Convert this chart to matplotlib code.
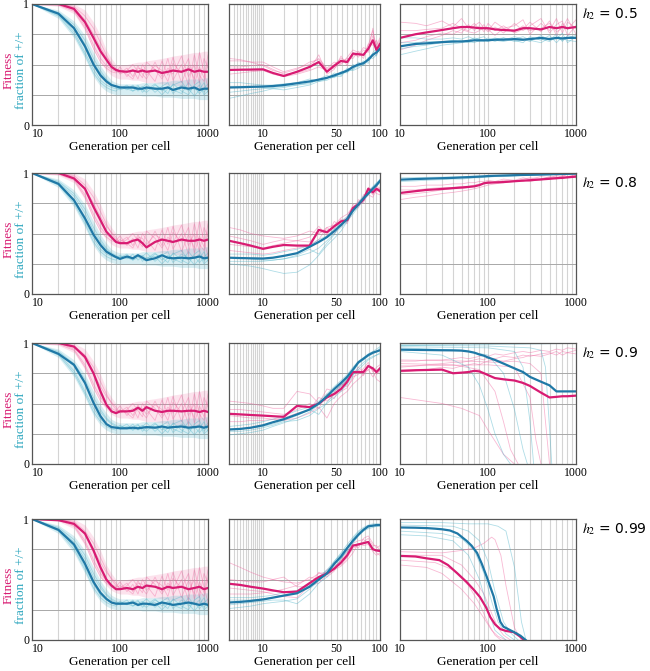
import numpy as np
import matplotlib
import matplotlib.pyplot as plt

plt.rcParams['font.family'] = ['Liberation Serif', 'DejaVu Serif']
plt.rcParams['mathtext.fontset'] = 'stix'

# ---- data -------------------------------------------------------------
h2_labels = ['0.5', '0.8', '0.9', '0.99']

# left column: generations 10..1000
LX = [10, 20, 30, 40, 50, 60, 70, 80, 90, 100, 120, 140, 160, 180, 200, 250, 300, 350, 400, 500, 600, 700, 800, 900, 1000]
left_mag = [
    [1.0, 1.0, 0.96, 0.85, 0.72, 0.61, 0.54, 0.48, 0.455, 0.445, 0.44, 0.45, 0.44, 0.45, 0.44, 0.45, 0.43, 0.44, 0.45, 0.44, 0.46, 0.44, 0.45, 0.44, 0.44],
    [1.0, 1.0, 0.955, 0.87, 0.72, 0.61, 0.515, 0.47, 0.43, 0.42, 0.42, 0.44, 0.45, 0.42, 0.385, 0.43, 0.45, 0.44, 0.43, 0.45, 0.44, 0.44, 0.45, 0.44, 0.45],
    [1.0, 1.0, 0.97, 0.885, 0.75, 0.60, 0.49, 0.435, 0.42, 0.435, 0.435, 0.44, 0.465, 0.44, 0.47, 0.44, 0.43, 0.44, 0.44, 0.435, 0.44, 0.44, 0.43, 0.44, 0.43],
    [1.0, 0.99, 0.96, 0.88, 0.74, 0.60, 0.50, 0.45, 0.42, 0.42, 0.43, 0.42, 0.44, 0.43, 0.45, 0.44, 0.42, 0.44, 0.43, 0.44, 0.42, 0.43, 0.44, 0.42, 0.43],
]
left_teal = [
    [1.0, 0.92, 0.80, 0.65, 0.50, 0.41, 0.36, 0.33, 0.32, 0.31, 0.31, 0.31, 0.30, 0.30, 0.31, 0.30, 0.30, 0.31, 0.29, 0.31, 0.30, 0.31, 0.29, 0.30, 0.30],
    [1.0, 0.91, 0.775, 0.625, 0.49, 0.405, 0.35, 0.325, 0.305, 0.29, 0.31, 0.295, 0.32, 0.30, 0.28, 0.295, 0.32, 0.30, 0.295, 0.30, 0.295, 0.30, 0.31, 0.295, 0.30],
    [1.0, 0.91, 0.82, 0.67, 0.505, 0.395, 0.33, 0.305, 0.30, 0.295, 0.295, 0.30, 0.295, 0.30, 0.305, 0.30, 0.31, 0.30, 0.305, 0.31, 0.30, 0.305, 0.31, 0.30, 0.31],
    [1.0, 0.91, 0.79, 0.63, 0.48, 0.39, 0.34, 0.31, 0.30, 0.30, 0.30, 0.31, 0.29, 0.30, 0.30, 0.29, 0.31, 0.30, 0.29, 0.30, 0.31, 0.30, 0.29, 0.30, 0.29],
]
left_mag_runs = [
    [1.0, 1.0, 0.98, 0.90, 0.80, 0.68, 0.58, 0.50, 0.45, 0.43, 0.47, 0.40, 0.49, 0.42, 0.38, 0.52, 0.40, 0.55, 0.37, 0.50, 0.33, 0.58, 0.41, 0.36, 0.52],
    [1.0, 1.0, 0.95, 0.82, 0.66, 0.55, 0.49, 0.46, 0.44, 0.48, 0.40, 0.46, 0.38, 0.50, 0.45, 0.36, 0.53, 0.41, 0.56, 0.35, 0.49, 0.38, 0.60, 0.44, 0.31],
    [1.0, 1.0, 0.97, 0.87, 0.75, 0.64, 0.56, 0.51, 0.47, 0.42, 0.45, 0.50, 0.44, 0.39, 0.52, 0.46, 0.38, 0.47, 0.42, 0.57, 0.40, 0.50, 0.35, 0.55, 0.47],
    [1.0, 0.99, 0.94, 0.80, 0.63, 0.52, 0.47, 0.44, 0.43, 0.45, 0.42, 0.38, 0.47, 0.46, 0.41, 0.49, 0.45, 0.36, 0.51, 0.43, 0.55, 0.34, 0.48, 0.39, 0.58],
]
left_teal_runs = [
    [1.0, 0.93, 0.83, 0.70, 0.55, 0.45, 0.38, 0.34, 0.32, 0.30, 0.33, 0.28, 0.32, 0.29, 0.27, 0.33, 0.30, 0.26, 0.34, 0.28, 0.25, 0.33, 0.36, 0.27, 0.31],
    [1.0, 0.91, 0.77, 0.60, 0.46, 0.37, 0.33, 0.31, 0.30, 0.32, 0.29, 0.33, 0.28, 0.31, 0.34, 0.27, 0.32, 0.35, 0.26, 0.33, 0.30, 0.24, 0.29, 0.35, 0.27],
    [1.0, 0.92, 0.81, 0.67, 0.52, 0.43, 0.37, 0.33, 0.31, 0.29, 0.31, 0.30, 0.33, 0.27, 0.30, 0.31, 0.25, 0.30, 0.33, 0.36, 0.28, 0.31, 0.26, 0.30, 0.34],
    [1.0, 0.90, 0.75, 0.58, 0.43, 0.35, 0.31, 0.29, 0.28, 0.31, 0.30, 0.28, 0.30, 0.32, 0.29, 0.34, 0.28, 0.32, 0.29, 0.26, 0.35, 0.29, 0.33, 0.25, 0.28],
]
left_mag_lo = [1.0, 0.98, 0.92, 0.78, 0.62, 0.52, 0.45, 0.41, 0.39, 0.38, 0.38, 0.37, 0.37, 0.36, 0.35, 0.35, 0.34, 0.33, 0.33, 0.32, 0.31, 0.31, 0.30, 0.30, 0.30]
left_mag_hi = [1.0, 1.0, 1.0, 0.95, 0.85, 0.74, 0.62, 0.55, 0.50, 0.50, 0.50, 0.51, 0.52, 0.52, 0.53, 0.54, 0.55, 0.56, 0.57, 0.58, 0.59, 0.60, 0.60, 0.61, 0.61]
left_teal_lo = [1.0, 0.88, 0.72, 0.55, 0.40, 0.32, 0.28, 0.26, 0.25, 0.25, 0.25, 0.25, 0.25, 0.24, 0.24, 0.24, 0.23, 0.23, 0.23, 0.22, 0.22, 0.22, 0.21, 0.21, 0.21]
left_teal_hi = [1.0, 0.95, 0.86, 0.74, 0.60, 0.49, 0.42, 0.37, 0.35, 0.34, 0.34, 0.34, 0.34, 0.35, 0.35, 0.35, 0.36, 0.36, 0.37, 0.37, 0.38, 0.38, 0.38, 0.39, 0.39]

# middle column: first 100 generations
MX = [3.35, 5, 7, 10, 13, 17, 23, 30, 36, 42, 48, 54, 60, 66, 72, 78, 84, 90, 95, 100]
mid_mag = [
    [0.455, 0.457, 0.458, 0.46, 0.43, 0.405, 0.44, 0.48, 0.52, 0.44, 0.49, 0.53, 0.52, 0.59, 0.585, 0.58, 0.63, 0.70, 0.62, 0.67],
    [0.44, 0.42, 0.40, 0.373, 0.39, 0.405, 0.40, 0.40, 0.53, 0.51, 0.56, 0.60, 0.61, 0.71, 0.74, 0.78, 0.87, 0.84, 0.87, 0.85],
    [0.415, 0.41, 0.405, 0.40, 0.395, 0.39, 0.48, 0.47, 0.50, 0.55, 0.58, 0.62, 0.68, 0.76, 0.76, 0.76, 0.81, 0.79, 0.76, 0.79],
    [0.465, 0.455, 0.44, 0.425, 0.41, 0.395, 0.40, 0.47, 0.52, 0.55, 0.59, 0.64, 0.70, 0.78, 0.79, 0.80, 0.81, 0.75, 0.74, 0.735],
]
mid_teal = [
    [0.31, 0.312, 0.315, 0.318, 0.322, 0.33, 0.345, 0.36, 0.375, 0.39, 0.41, 0.43, 0.45, 0.48, 0.50, 0.51, 0.54, 0.58, 0.60, 0.63],
    [0.30, 0.297, 0.295, 0.293, 0.30, 0.315, 0.337, 0.39, 0.43, 0.47, 0.52, 0.57, 0.62, 0.69, 0.74, 0.79, 0.83, 0.87, 0.90, 0.935],
    [0.285, 0.29, 0.30, 0.32, 0.345, 0.37, 0.41, 0.45, 0.50, 0.56, 0.62, 0.67, 0.72, 0.78, 0.84, 0.87, 0.90, 0.92, 0.93, 0.94],
    [0.31, 0.315, 0.323, 0.335, 0.35, 0.367, 0.386, 0.44, 0.50, 0.55, 0.63, 0.69, 0.76, 0.82, 0.87, 0.91, 0.94, 0.945, 0.95, 0.95],
]
mid_mag_runs = [
    [[0.53, 0.53, 0.52, 0.52, 0.48, 0.44, 0.47, 0.50, 0.55, 0.47, 0.52, 0.50, 0.56, 0.62, 0.60, 0.55, 0.66, 0.78, 0.64, 0.70],
     [0.48, 0.48, 0.49, 0.50, 0.46, 0.42, 0.43, 0.46, 0.58, 0.42, 0.46, 0.57, 0.49, 0.60, 0.56, 0.62, 0.60, 0.74, 0.66, 0.72],
     [0.42, 0.43, 0.44, 0.45, 0.42, 0.40, 0.42, 0.45, 0.48, 0.45, 0.47, 0.51, 0.55, 0.55, 0.61, 0.57, 0.67, 0.66, 0.70, 0.62],
     [0.55, 0.54, 0.52, 0.49, 0.45, 0.43, 0.46, 0.52, 0.54, 0.46, 0.50, 0.55, 0.53, 0.57, 0.58, 0.64, 0.62, 0.80, 0.58, 0.68]],
    [[0.55, 0.53, 0.50, 0.48, 0.47, 0.46, 0.48, 0.52, 0.50, 0.55, 0.57, 0.63, 0.66, 0.72, 0.76, 0.80, 0.86, 0.82, 0.90, 0.86],
     [0.36, 0.35, 0.34, 0.33, 0.34, 0.36, 0.38, 0.40, 0.45, 0.55, 0.50, 0.58, 0.64, 0.68, 0.78, 0.75, 0.88, 0.86, 0.83, 0.82],
     [0.48, 0.46, 0.44, 0.41, 0.43, 0.45, 0.44, 0.47, 0.56, 0.48, 0.60, 0.56, 0.63, 0.74, 0.71, 0.82, 0.84, 0.88, 0.85, 0.88],
     [0.41, 0.40, 0.39, 0.38, 0.40, 0.42, 0.44, 0.43, 0.50, 0.53, 0.54, 0.62, 0.58, 0.70, 0.73, 0.77, 0.82, 0.80, 0.86, 0.84]],
    [[0.52, 0.51, 0.50, 0.48, 0.46, 0.46, 0.60, 0.58, 0.50, 0.62, 0.60, 0.65, 0.70, 0.74, 0.80, 0.76, 0.78, 0.80, 0.74, 0.77],
     [0.35, 0.35, 0.36, 0.36, 0.37, 0.38, 0.42, 0.45, 0.55, 0.52, 0.57, 0.60, 0.63, 0.72, 0.74, 0.79, 0.84, 0.76, 0.80, 0.82],
     [0.45, 0.45, 0.44, 0.43, 0.42, 0.41, 0.45, 0.50, 0.46, 0.58, 0.54, 0.66, 0.64, 0.70, 0.78, 0.73, 0.82, 0.77, 0.70, 0.68],
     [0.40, 0.39, 0.38, 0.38, 0.37, 0.36, 0.38, 0.42, 0.47, 0.38, 0.50, 0.56, 0.60, 0.66, 0.70, 0.74, 0.78, 0.72, 0.76, 0.80]],
    [[0.64, 0.60, 0.56, 0.52, 0.50, 0.48, 0.47, 0.50, 0.55, 0.56, 0.60, 0.66, 0.72, 0.80, 0.82, 0.83, 0.80, 0.76, 0.72, 0.70],
     [0.38, 0.38, 0.38, 0.39, 0.40, 0.42, 0.45, 0.52, 0.50, 0.58, 0.62, 0.62, 0.68, 0.76, 0.78, 0.81, 0.84, 0.78, 0.78, 0.74],
     [0.50, 0.49, 0.48, 0.48, 0.50, 0.52, 0.44, 0.44, 0.56, 0.52, 0.57, 0.67, 0.74, 0.79, 0.76, 0.84, 0.86, 0.80, 0.76, 0.78],
     [0.43, 0.42, 0.41, 0.40, 0.38, 0.36, 0.35, 0.45, 0.47, 0.54, 0.58, 0.61, 0.66, 0.72, 0.80, 0.78, 0.79, 0.73, 0.70, 0.72]],
]
mid_teal_runs = [
    [[0.22, 0.24, 0.26, 0.28, 0.30, 0.31, 0.33, 0.35, 0.37, 0.39, 0.40, 0.42, 0.44, 0.46, 0.49, 0.52, 0.53, 0.57, 0.62, 0.60],
     [0.35, 0.35, 0.34, 0.33, 0.33, 0.34, 0.35, 0.38, 0.36, 0.38, 0.43, 0.41, 0.47, 0.46, 0.52, 0.49, 0.56, 0.55, 0.58, 0.65],
     [0.27, 0.28, 0.29, 0.30, 0.31, 0.32, 0.33, 0.34, 0.38, 0.41, 0.39, 0.44, 0.43, 0.50, 0.48, 0.53, 0.51, 0.60, 0.63, 0.62],
     [0.32, 0.32, 0.32, 0.31, 0.30, 0.29, 0.31, 0.33, 0.36, 0.37, 0.40, 0.40, 0.46, 0.45, 0.47, 0.50, 0.55, 0.59, 0.57, 0.66]],
    [[0.25, 0.24, 0.23, 0.21, 0.19, 0.17, 0.18, 0.24, 0.32, 0.40, 0.46, 0.52, 0.60, 0.68, 0.73, 0.78, 0.83, 0.88, 0.91, 0.93],
     [0.33, 0.33, 0.33, 0.32, 0.33, 0.35, 0.37, 0.40, 0.45, 0.48, 0.54, 0.58, 0.63, 0.70, 0.75, 0.80, 0.84, 0.88, 0.91, 0.95],
     [0.27, 0.27, 0.27, 0.27, 0.28, 0.29, 0.31, 0.34, 0.38, 0.44, 0.50, 0.55, 0.60, 0.66, 0.72, 0.77, 0.82, 0.86, 0.89, 0.92],
     [0.30, 0.30, 0.29, 0.28, 0.28, 0.29, 0.32, 0.37, 0.33, 0.42, 0.49, 0.60, 0.64, 0.71, 0.76, 0.81, 0.85, 0.89, 0.92, 0.94]],
    [[0.24, 0.25, 0.26, 0.28, 0.31, 0.34, 0.38, 0.43, 0.49, 0.55, 0.60, 0.65, 0.70, 0.76, 0.83, 0.86, 0.89, 0.91, 0.93, 0.96],
     [0.31, 0.32, 0.33, 0.35, 0.37, 0.40, 0.44, 0.47, 0.52, 0.58, 0.64, 0.69, 0.74, 0.80, 0.85, 0.88, 0.91, 0.93, 0.95, 0.97],
     [0.27, 0.27, 0.28, 0.30, 0.32, 0.35, 0.36, 0.40, 0.46, 0.50, 0.55, 0.60, 0.66, 0.73, 0.80, 0.84, 0.87, 0.89, 0.90, 0.92],
     [0.29, 0.29, 0.30, 0.31, 0.33, 0.36, 0.40, 0.45, 0.41, 0.51, 0.58, 0.64, 0.70, 0.74, 0.78, 0.82, 0.86, 0.88, 0.90, 0.91]],
    [[0.26, 0.27, 0.28, 0.30, 0.31, 0.32, 0.34, 0.42, 0.49, 0.56, 0.65, 0.72, 0.79, 0.85, 0.90, 0.93, 0.95, 0.96, 0.96, 0.96],
     [0.35, 0.35, 0.35, 0.36, 0.37, 0.39, 0.41, 0.46, 0.52, 0.58, 0.65, 0.71, 0.77, 0.83, 0.88, 0.91, 0.93, 0.94, 0.95, 0.95],
     [0.29, 0.30, 0.31, 0.32, 0.33, 0.33, 0.30, 0.38, 0.47, 0.52, 0.60, 0.67, 0.75, 0.84, 0.89, 0.92, 0.94, 0.95, 0.94, 0.94],
     [0.33, 0.33, 0.33, 0.34, 0.35, 0.37, 0.40, 0.45, 0.51, 0.57, 0.63, 0.68, 0.73, 0.80, 0.86, 0.90, 0.92, 0.93, 0.94, 0.95]],
]

# right column: generations 10..1000
RX = [10, 15, 20, 30, 40, 50, 60, 70, 80, 90, 100, 120, 150, 200, 250, 300, 400, 500, 600, 700, 800, 1000]
r1_mag = [0.72, 0.75, 0.765, 0.785, 0.80, 0.81, 0.81, 0.805, 0.80, 0.80, 0.80, 0.79, 0.785, 0.78, 0.80, 0.80, 0.79, 0.81, 0.80, 0.81, 0.80, 0.81]
r1_teal = [0.65, 0.67, 0.675, 0.685, 0.69, 0.69, 0.695, 0.70, 0.70, 0.70, 0.70, 0.705, 0.705, 0.71, 0.705, 0.71, 0.72, 0.71, 0.72, 0.715, 0.72, 0.72]
r1_mag_runs = [
    [0.85, 0.84, 0.82, 0.86, 0.81, 0.88, 0.80, 0.84, 0.79, 0.83, 0.78, 0.85, 0.80, 0.82, 0.87, 0.75, 0.84, 0.78, 0.88, 0.76, 0.85, 0.80],
    [0.62, 0.66, 0.70, 0.74, 0.78, 0.76, 0.83, 0.78, 0.82, 0.77, 0.84, 0.78, 0.82, 0.76, 0.79, 0.85, 0.77, 0.86, 0.74, 0.84, 0.79, 0.87],
    [0.78, 0.78, 0.79, 0.80, 0.84, 0.80, 0.78, 0.82, 0.85, 0.80, 0.77, 0.81, 0.76, 0.84, 0.78, 0.82, 0.88, 0.76, 0.83, 0.86, 0.74, 0.82],
    [0.68, 0.70, 0.73, 0.76, 0.75, 0.79, 0.77, 0.76, 0.78, 0.81, 0.79, 0.74, 0.80, 0.77, 0.82, 0.78, 0.80, 0.84, 0.77, 0.80, 0.88, 0.75],
]
r1_teal_runs = [
    [0.58, 0.61, 0.63, 0.66, 0.67, 0.68, 0.69, 0.68, 0.70, 0.69, 0.71, 0.69, 0.72, 0.70, 0.68, 0.73, 0.70, 0.74, 0.68, 0.73, 0.70, 0.69],
    [0.72, 0.72, 0.71, 0.71, 0.72, 0.71, 0.73, 0.71, 0.72, 0.73, 0.70, 0.72, 0.70, 0.73, 0.71, 0.69, 0.74, 0.70, 0.75, 0.69, 0.74, 0.72],
    [0.63, 0.65, 0.66, 0.68, 0.68, 0.70, 0.68, 0.70, 0.69, 0.70, 0.72, 0.70, 0.69, 0.71, 0.73, 0.70, 0.68, 0.72, 0.71, 0.76, 0.68, 0.73],
    [0.68, 0.68, 0.69, 0.69, 0.70, 0.69, 0.70, 0.72, 0.71, 0.70, 0.69, 0.71, 0.72, 0.69, 0.70, 0.72, 0.71, 0.69, 0.73, 0.70, 0.72, 0.74],
]
r2_mag = [0.835, 0.85, 0.86, 0.868, 0.875, 0.88, 0.885, 0.89, 0.90, 0.915, 0.92, 0.922, 0.925, 0.932, 0.937, 0.94, 0.947, 0.952, 0.957, 0.96, 0.964, 0.97]
r2_teal = [0.945, 0.95, 0.953, 0.957, 0.96, 0.963, 0.966, 0.968, 0.97, 0.972, 0.975, 0.977, 0.979, 0.982, 0.984, 0.985, 0.987, 0.989, 0.991, 0.992, 0.993, 0.995]
r2_mag_runs = [
    [0.78, 0.80, 0.81, 0.83, 0.84, 0.85, 0.86, 0.87, 0.88, 0.89, 0.90, 0.91, 0.92, 0.93, 0.94, 0.93, 0.95, 0.96, 0.95, 0.97, 0.96, 0.98],
    [0.89, 0.89, 0.90, 0.90, 0.91, 0.91, 0.92, 0.92, 0.93, 0.93, 0.94, 0.93, 0.95, 0.94, 0.96, 0.95, 0.97, 0.96, 0.98, 0.97, 0.99, 0.98],
    [0.82, 0.83, 0.84, 0.86, 0.87, 0.87, 0.88, 0.89, 0.90, 0.92, 0.91, 0.93, 0.92, 0.94, 0.93, 0.95, 0.94, 0.96, 0.97, 0.95, 0.97, 0.96],
    [0.86, 0.86, 0.87, 0.88, 0.88, 0.89, 0.89, 0.90, 0.91, 0.92, 0.93, 0.92, 0.94, 0.93, 0.95, 0.96, 0.95, 0.97, 0.96, 0.98, 0.97, 0.99],
]
r2_teal_runs = [
    [0.93, 0.935, 0.94, 0.945, 0.95, 0.95, 0.955, 0.96, 0.96, 0.965, 0.965, 0.97, 0.97, 0.975, 0.98, 0.98, 0.985, 0.985, 0.99, 0.99, 0.99, 0.995],
    [0.96, 0.962, 0.964, 0.966, 0.968, 0.97, 0.972, 0.974, 0.975, 0.977, 0.978, 0.98, 0.982, 0.984, 0.986, 0.988, 0.99, 0.991, 0.992, 0.994, 0.995, 0.997],
]
r3_mag = [0.77, 0.775, 0.777, 0.78, 0.75, 0.755, 0.76, 0.77, 0.765, 0.75, 0.735, 0.71, 0.70, 0.69, 0.67, 0.645, 0.59, 0.55, 0.555, 0.56, 0.56, 0.565]
r3_teal = [0.945, 0.943, 0.942, 0.94, 0.939, 0.937, 0.93, 0.92, 0.905, 0.895, 0.88, 0.86, 0.83, 0.79, 0.76, 0.72, 0.68, 0.65, 0.60, 0.60, 0.60, 0.60]
r3_mag_runs = [
    (RX, [0.80, 0.81, 0.82, 0.83, 0.84, 0.84, 0.85, 0.86, 0.87, 0.86, 0.88, 0.87, 0.89, 0.88, 0.90, 0.89, 0.91, 0.92, 0.90, 0.93, 0.92, 0.94]),
    (RX, [0.76, 0.77, 0.78, 0.80, 0.79, 0.81, 0.82, 0.83, 0.82, 0.84, 0.85, 0.86, 0.85, 0.87, 0.88, 0.90, 0.89, 0.91, 0.93, 0.90, 0.92, 0.91]),
    (RX, [0.85, 0.85, 0.86, 0.86, 0.87, 0.88, 0.87, 0.88, 0.89, 0.90, 0.89, 0.91, 0.90, 0.92, 0.93, 0.92, 0.94, 0.93, 0.95, 0.94, 0.96, 0.95]),
    ([10, 30, 50, 80, 100, 150, 200], [0.55, 0.50, 0.46, 0.40, 0.28, 0.08, 0.0]),
    ([10, 40, 80, 120, 150, 180, 220], [0.83, 0.82, 0.78, 0.60, 0.35, 0.12, 0.0]),
    ([10, 60, 120, 200, 300, 400, 450, 500], [0.86, 0.85, 0.84, 0.85, 0.83, 0.75, 0.35, 0.0]),
    ([10, 100, 200, 300, 350, 400], [0.81, 0.82, 0.80, 0.55, 0.2, 0.0]),
]
r3_teal_runs = [
    (RX, [0.98, 0.98, 0.982, 0.983, 0.984, 0.985, 0.985, 0.986, 0.987, 0.988, 0.988, 0.989, 0.99, 0.99, 0.991, 0.992, 0.993, 0.994, 0.995, 0.995, 0.996, 0.997]),
    (RX, [0.99, 0.99, 0.991, 0.992, 0.993, 0.993, 0.994, 0.994, 0.995, 0.995, 0.996, 0.996, 0.997, 0.997, 0.998, 0.998, 0.999, 0.999, 0.999, 1.0, 1.0, 1.0]),
    ([10, 30, 60, 80, 100, 120, 150, 180], [0.93, 0.90, 0.80, 0.65, 0.45, 0.25, 0.08, 0.0]),
    ([10, 50, 100, 150, 200, 250, 280], [0.96, 0.94, 0.90, 0.75, 0.45, 0.12, 0.0]),
    ([10, 100, 200, 250, 300, 330], [0.97, 0.96, 0.93, 0.80, 0.35, 0.0]),
    ([10, 100, 300, 400, 450, 500, 530], [0.98, 0.975, 0.96, 0.94, 0.80, 0.30, 0.0]),
]
r4_teal_x = [10, 15, 20, 25, 30, 37, 45, 57, 65, 75, 85, 97, 106, 116, 125, 138, 150, 180, 210, 234, 268]
r4_teal = [0.93, 0.928, 0.925, 0.92, 0.915, 0.905, 0.88, 0.82, 0.78, 0.72, 0.63, 0.52, 0.44, 0.36, 0.26, 0.15, 0.11, 0.08, 0.055, 0.035, 0.0]
r4_mag_x = [10, 15, 20, 28, 35, 45, 57, 70, 81, 95, 106, 120, 138, 160, 196, 230, 256]
r4_mag = [0.695, 0.69, 0.675, 0.66, 0.62, 0.55, 0.48, 0.41, 0.355, 0.27, 0.19, 0.13, 0.09, 0.075, 0.065, 0.03, 0.0]
r4_mag_runs = [
    ([10, 30, 50, 70, 90, 110, 120, 140, 160, 200, 240], [0.73, 0.72, 0.74, 0.76, 0.80, 0.85, 0.83, 0.70, 0.45, 0.10, 0.0]),
    ([10, 20, 30, 50, 70, 90, 110, 130, 160], [0.62, 0.60, 0.55, 0.42, 0.30, 0.18, 0.08, 0.03, 0.0]),
    ([10, 30, 50, 70, 90, 110, 130, 150, 180], [0.70, 0.70, 0.62, 0.50, 0.38, 0.22, 0.10, 0.04, 0.0]),
    ([10, 25, 40, 60, 80, 100, 120, 140], [0.66, 0.64, 0.58, 0.45, 0.30, 0.14, 0.04, 0.0]),
]
r4_teal_runs = [
    ([10, 30, 60, 100, 130, 160, 200, 240, 270], [0.97, 0.97, 0.96, 0.96, 0.94, 0.90, 0.60, 0.15, 0.0]),
    ([10, 30, 50, 70, 90, 110, 130, 160, 200], [0.90, 0.88, 0.84, 0.74, 0.55, 0.32, 0.15, 0.05, 0.0]),
    ([10, 40, 60, 80, 100, 120, 150, 180, 220], [0.95, 0.94, 0.90, 0.82, 0.65, 0.40, 0.15, 0.06, 0.0]),
    ([10, 20, 40, 60, 80, 100, 120, 160], [0.87, 0.86, 0.82, 0.70, 0.50, 0.25, 0.08, 0.0]),
]

right_mean = [
    (RX, r1_mag, RX, r1_teal),
    (RX, r2_mag, RX, r2_teal),
    (RX, r3_mag, RX, r3_teal),
    (r4_mag_x, r4_mag, r4_teal_x, r4_teal),
]
right_runs = [
    ([(RX, y) for y in r1_mag_runs], [(RX, y) for y in r1_teal_runs]),
    ([(RX, y) for y in r2_mag_runs], [(RX, y) for y in r2_teal_runs]),
    (r3_mag_runs, r3_teal_runs),
    (r4_mag_runs, r4_teal_runs),
]

# ---- style ------------------------------------------------------------
MAG = '#d81b72'
MAG_THIN = '#f1649f'
TEAL = '#1f78a6'
TEAL_THIN = '#4db3c9'
GRID_V = '#d4d4d4'
GRID_H = '#a8a8a8'

W, H = 650, 671
fig = plt.figure(figsize=(W / 100, H / 100), dpi=100)

row_top = [4, 173, 343, 519]
row_h = 121
cols = [(32, 176), (229, 151), (400, 176)]

log_grid = [20, 30, 40, 50, 60, 70, 80, 90, 100, 200, 300, 400, 500, 600, 700, 800, 900]
mid_grid = [4, 4.5, 5, 5.5, 6, 6.5, 7, 7.5, 8, 8.5, 9, 9.5, 10, 17, 23, 30, 35, 40, 45,
            50, 55, 60, 65, 70, 75, 80, 85, 90, 95]


def fwd(x):
    return np.power(np.clip(x, 1e-6, None), 0.28)


def inv(y):
    return np.power(np.clip(y, 1e-6, None), 1 / 0.28)


def make_ax(r, c):
    x0, w = cols[c]
    ax = fig.add_axes([x0 / W, 1 - (row_top[r] + row_h) / H, w / W, row_h / H])
    ax.set_ylim(0, 1)
    if c == 1:
        ax.set_xscale('function', functions=(fwd, inv))
        ax.set_xlim(3.35, 100)
        ax.set_xticks([10, 50, 100])
        ax.set_xticklabels(['10', '50', '100'])
        vg = mid_grid
    else:
        ax.set_xscale('log')
        ax.set_xlim(10, 1000)
        ax.set_xticks([10, 100, 1000])
        ax.set_xticklabels(['10', '100', '1000'])
        vg = log_grid
    ax.set_xticks([], minor=True)
    for g in vg:
        ax.axvline(g, color=GRID_V, lw=0.8, zorder=0)
    for g in [0.25, 0.5, 0.75]:
        ax.axhline(g, color=GRID_H, lw=0.7, zorder=0)
    if c == 0:
        ax.set_yticks([0, 1])
        ax.set_yticklabels(['0', '1'])
        ax.get_xticklabels()[0].set_ha('left')
    else:
        ax.set_yticks([])
    ax.tick_params(length=0, labelsize=8.5, pad=2)
    for s in ax.spines.values():
        s.set_color('#555555')
        s.set_linewidth(0.9)
    ax.set_xlabel('Generation per cell', fontsize=9.5, labelpad=1)
    return ax


for r in range(4):
    # left
    ax = make_ax(r, 0)
    ax.fill_between(LX, left_mag_lo, left_mag_hi, color=MAG_THIN, alpha=0.18, lw=0)
    ax.fill_between(LX, left_teal_lo, left_teal_hi, color=TEAL_THIN, alpha=0.22, lw=0)
    for y in left_mag_runs:
        ax.plot(LX, y, color=MAG_THIN, lw=0.6, alpha=0.4)
    for y in left_teal_runs:
        ax.plot(LX, y, color=TEAL_THIN, lw=0.6, alpha=0.4)
    ax.plot(LX, left_mag[r], color=MAG, lw=1.6)
    ax.plot(LX, left_teal[r], color=TEAL, lw=1.6)
    ax.text(-0.135, 0.45, 'Fitness', color=MAG, rotation=90, ha='center', va='center',
            fontsize=9.5, transform=ax.transAxes)
    ax.text(-0.065, 0.45, 'fraction of +/+', color='#2aa5bd', rotation=90, ha='center',
            va='center', fontsize=9.5, transform=ax.transAxes)

    # middle
    ax = make_ax(r, 1)
    for y in mid_mag_runs[r]:
        ax.plot(MX, y, color=MAG_THIN, lw=0.6, alpha=0.45)
    for y in mid_teal_runs[r]:
        ax.plot(MX, y, color=TEAL_THIN, lw=0.6, alpha=0.45)
    ax.plot(MX, mid_mag[r], color=MAG, lw=1.6)
    ax.plot(MX, mid_teal[r], color=TEAL, lw=1.6)

    # right
    ax = make_ax(r, 2)
    mag_runs, teal_runs = right_runs[r]
    for x, y in mag_runs:
        ax.plot(x, y, color=MAG_THIN, lw=0.6, alpha=0.45)
    for x, y in teal_runs:
        ax.plot(x, y, color=TEAL_THIN, lw=0.6, alpha=0.45)
    mx, my, tx, ty = right_mean[r]
    ax.plot(mx, my, color=MAG, lw=1.6)
    ax.plot(tx, ty, color=TEAL, lw=1.6)

    fig.text(582 / W, 1 - (row_top[r] + 10) / H, r'$h_2$' + ' = ' + h2_labels[r],
             fontsize=10, family='DejaVu Sans', ha='left', va='center')

fig.savefig('out.png', dpi=100)
